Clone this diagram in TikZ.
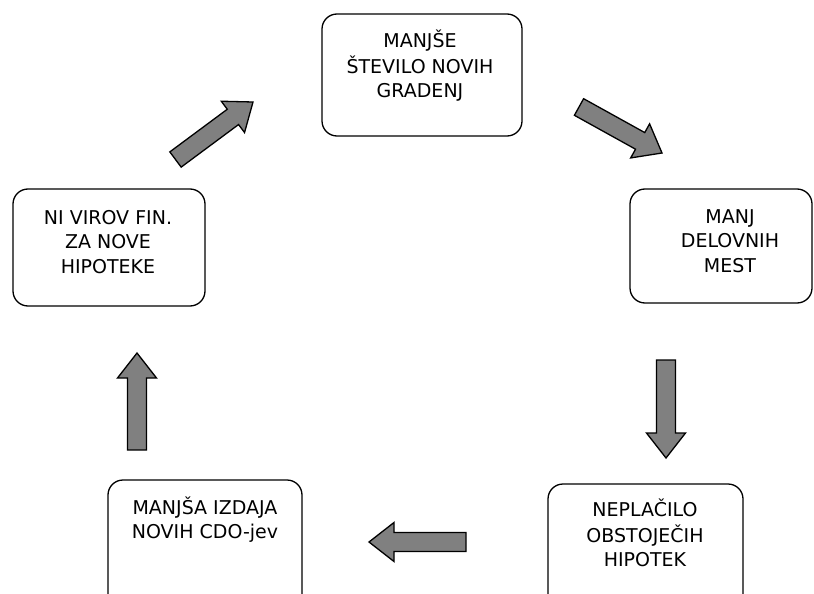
\documentclass[tikz,border=0pt]{standalone}
\usepackage{fontspec}
\setmainfont{DejaVu Sans}
\usetikzlibrary{calc}

\tikzset{
  cyclebox/.style={draw=black, line width=1.3pt, rounded corners=15pt,
                   inner sep=0pt, fill=white},
  lbl/.style={align=center, inner sep=0pt,
              font=\fontsize{19}{24.5}\selectfont},
  fatarrow/.style={draw=black, line width=1.3pt, fill=black!50,
                   line join=miter}
}

% block arrow from coordinate #1 (tail) to coordinate #2 (tip)
\newcommand\fatarrow[2]{%
  \coordinate (#1-#2-base) at ($(#2)!25pt!(#1)$);
  \draw[fatarrow]
    ($(#1)!9.5pt!90:(#2)$) -- ($(#1-#2-base)!9.5pt!90:(#2)$)
    -- ($(#1-#2-base)!19.5pt!90:(#2)$) -- (#2)
    -- ($(#1-#2-base)!19.5pt!-90:(#2)$) -- ($(#1-#2-base)!9.5pt!-90:(#2)$)
    -- ($(#1)!9.5pt!-90:(#2)$) -- cycle;}

\begin{document}
\begin{tikzpicture}[x=1pt, y=-1pt]
  \clip (0,0) rectangle (814,594);
  \fill[white] (0,0) rectangle (814,594);

  % boxes
  \node[cyclebox, minimum width=200pt, minimum height=122pt] (top)   at (422,75)    {};
  \node[cyclebox, minimum width=182pt, minimum height=114pt] (right) at (721,246)   {};
  \node[cyclebox, minimum width=195pt, minimum height=130pt] (bright) at (645.5,549) {};
  \node[cyclebox, minimum width=194pt, minimum height=130pt] (bleft) at (205,545)   {};
  \node[cyclebox, minimum width=192pt, minimum height=117pt] (left)  at (109,247.5) {};

  % texts
  \node[lbl] (top-t)    at (420,67.6)  {\strut MANJŠE\\\strut ŠTEVILO NOVIH\\\strut GRADENJ};
  \node[lbl] (right-t)  at (730,242.6) {\strut MANJ\\\strut DELOVNIH\\\strut MEST};
  \node[lbl] (bright-t) at (645,536.6) {\strut NEPLAČILO\\\strut OBSTOJEČIH\\\strut HIPOTEK};
  \node[lbl] (bleft-t)  at (205,521.6) {\strut MANJŠA IZDAJA\\\strut NOVIH CDO-jev};
  \node[lbl] (left-t)   at (108,243.6) {\strut NI VIROV FIN.\\\strut ZA NOVE\\\strut HIPOTEKE};

  % arrow end points
  \coordinate (a1) at (175.5,159.5);  \coordinate (b1) at (253,102);
  \coordinate (a2) at (579,107);      \coordinate (b2) at (662,153);
  \coordinate (a3) at (666,360);      \coordinate (b3) at (666,458);
  \coordinate (a4) at (466,542);      \coordinate (b4) at (369,542);
  \coordinate (a5) at (137,450);      \coordinate (b5) at (137,353);

  \fatarrow{a1}{b1}
  \fatarrow{a2}{b2}
  \fatarrow{a3}{b3}
  \fatarrow{a4}{b4}
  \fatarrow{a5}{b5}
\end{tikzpicture}
\end{document}
